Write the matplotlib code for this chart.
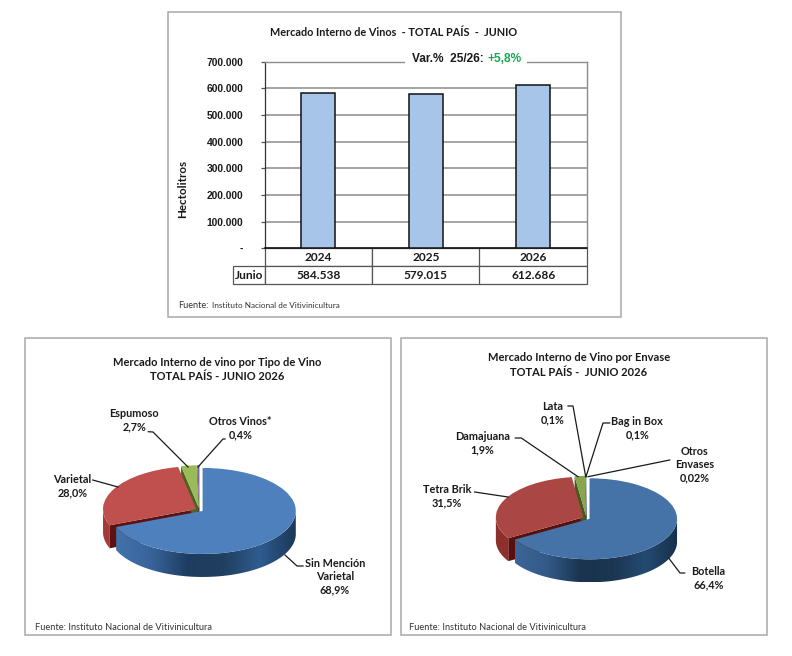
import numpy as np
import matplotlib
matplotlib.use('Agg')
import matplotlib.pyplot as plt
from matplotlib.patches import Polygon, Rectangle
from matplotlib.colors import LinearSegmentedColormap
from matplotlib.table import Table

W, H = 792, 656
years = ['2024', '2025', '2026']
hectolitros = [584538, 579015, 612686]
y_ticks = [0, 100000, 200000, 300000, 400000, 500000, 600000, 700000]
row_name = 'Junio'

tipo_names = ['Sin Mención\nVarietal\n68,9%', 'Varietal\n28,0%', 'Espumoso\n2,7%', 'Otros Vinos*\n0,4%']
tipo_values = [68.9, 28.0, 2.7, 0.4]
envase_names = ['Botella\n66,4%', 'Tetra Brik\n31,5%', 'Damajuana\n1,9%', 'Lata\n0,1%', 'Bag in Box\n0,1%', 'Otros\nEnvases\n0,02%']
envase_values = [66.4, 31.5, 1.9, 0.1, 0.1, 0.02]

CAL = 'Lato'
ARIAL = 'Liberation Sans'
TXT = '#1a1a1a'

fig = plt.figure(figsize=(W / 100, H / 100), dpi=100, facecolor='white')


def px_axes(x0, y0, x1, y1, **kw):
    return fig.add_axes([x0 / W, 1 - y1 / H, (x1 - x0) / W, (y1 - y0) / H], **kw)


def fmt(v):
    return f'{v:,}'.replace(',', '.') if v else '-'


# overlay in pixel coordinates for frames, titles and leaders
ov = px_axes(0, 0, W, H, zorder=10)
ov.set_xlim(0, W)
ov.set_ylim(H, 0)
ov.axis('off')
ov.patch.set_alpha(0)

for x0, y0, x1, y1 in [(168, 12, 621, 317), (25, 338, 391, 635), (401, 338, 767, 635)]:
    ov.add_patch(Rectangle((x0, y0), x1 - x0, y1 - y0, fc='none', ec='#a8a8a8', lw=1.1))

# bar chart
ax = px_axes(264.5, 61.8, 587, 248.3)
ax.bar(years, hectolitros, width=0.315, color='#a7c5e9', edgecolor='#111111', linewidth=1.1, zorder=3)
ax.set_xlim(-0.5, 2.5)
ax.set_ylim(0, 700000)
ax.set_yticks(y_ticks)
ax.set_yticklabels([fmt(v) for v in y_ticks], fontname=ARIAL, fontweight='bold', fontsize=7.4, color=TXT)
ax.tick_params(axis='y', length=2.8, width=0.9, color='#555555', pad=12.5)
ax.tick_params(axis='x', length=0, labelbottom=False)
ax.grid(axis='y', color='#8c8c8c', lw=1.1, zorder=1)
for s in ['top', 'right']:
    ax.spines[s].set_color('#8c8c8c')
    ax.spines[s].set_linewidth(1.0)
ax.spines['left'].set_color('#333333')
ax.spines['left'].set_linewidth(0.9)
ax.spines['bottom'].set_color('#111111')
ax.spines['bottom'].set_linewidth(1.1)

# data table under the bars, the grid fills the bbox and the row label hangs to the left
row_w = 31 / 322.5
col_w = 1 / 3
tbl_h = 36 / 186.5
tb = Table(ax, bbox=[0, -tbl_h, 1, tbl_h])
for i, (yr, val) in enumerate(zip(years, hectolitros)):
    tb.add_cell(0, i, col_w, 0.5, text=yr, loc='center', edgecolor='#555555')
    tb.add_cell(1, i, col_w, 0.5, text=fmt(val), loc='center', edgecolor='#555555')
tb.add_cell(1, -1, row_w, 0.5, text=row_name, loc='center', edgecolor='#555555')
tb.auto_set_font_size(False)
for c in tb.get_celld().values():
    c.set_linewidth(0.9)
    c.get_text().set(fontname=CAL, fontweight='bold', fontsize=8.6, color=TXT)
    c.PAD = 0.02
ax.add_table(tb)

ov.text(394, 32, 'Mercado Interno de Vinos  - TOTAL PAÍS  -  JUNIO', fontname=CAL, fontweight='bold',
        fontsize=7.8, color=TXT, ha='center', va='center')
ov.add_patch(Rectangle((405, 52), 122, 16, fc='white', ec='none'))
ov.text(412, 59.5, 'Var.%  25/26:', fontname=ARIAL, fontweight='bold', fontsize=8.6, color=TXT, ha='left', va='center')
ov.text(487.5, 59.5, '+5,8%', fontname=ARIAL, fontweight='bold', fontsize=8.6, color='#14a850', ha='left', va='center')
ov.text(183, 189, 'Hectolitros', fontname=CAL, fontweight='bold', fontsize=8.4, color=TXT, rotation=90, ha='center', va='center')
ov.text(178, 306, 'Fuente:', fontname=CAL, fontsize=6.6, color='#333333', ha='left', va='center')
ov.text(211.5, 306, 'Instituto Nacional de Vitivinicultura', fontname=CAL, fontsize=5.9, color='#333333', ha='left', va='center')


def pie3d(values, cx, cy, a, b, depth, colors, side_stops, side_dark, cut_colors):
    d = depth / b
    m = 1.3
    pa = px_axes(cx - m * a, cy - m * b, cx + m * a, cy + m * b + depth)
    wedges, _ = pa.pie(values, colors=colors, startangle=90, counterclock=False,
                       explode=[0.04] * len(values), radius=1)
    pa.set_aspect('auto')
    for w in wedges:
        w.set_zorder(5)
        w.set_linewidth(0)
    for i, w in enumerate(wedges):
        wx, wy = w.center
        t = np.radians(np.linspace(w.theta1, w.theta2, 400))
        t = t[np.sin(t) <= 0]
        if i > 0:
            # cut face towards the viewer
            t2 = np.radians(w.theta2)
            rx, ry = wx + np.cos(t2), wy + np.sin(t2)
            pa.add_patch(Polygon([(wx, wy), (rx, ry), (rx, ry - d), (wx, wy - d)], fc=cut_colors[i], ec='none', zorder=1.5))
        if len(t) < 2:
            continue
        xs, ys = wx + np.cos(t), wy + np.sin(t)
        pts = np.r_[np.c_[xs, ys], np.c_[xs, ys - d][::-1]]
        if i == 0:
            # front side of the big slice carries a horizontal gradient
            cmap = LinearSegmentedColormap.from_list('side', side_stops)
            im = pa.imshow(np.linspace(0, 1, 256)[None, :], cmap=cmap, aspect='auto', zorder=2,
                           extent=(xs.min(), xs.max(), ys.min() - d, ys.max()))
            im.set_clip_path(Polygon(pts, transform=pa.transData))
        else:
            pa.add_patch(Polygon(pts, fc=side_dark, ec='none', zorder=1))
    pa.set_xlim(-m, m)
    pa.set_ylim(-m - d, m)
    pa.axis('off')
    return pa


pie3d(tipo_values, 199.5, 510, 93.2, 43, 23,
      ['#4d80bd', '#c0504d', '#9bbb59', '#8064a2'],
      ['#4372ab', '#38639a', '#1e3c60', '#20405f', '#2f5c90', '#1b3757'],
      '#a33a38', [None, '#5c1212', '#4c6322', '#403252'])
pie3d(envase_values, 586.5, 518, 87.5, 40.5, 23,
      ['#4572a7', '#aa4643', '#89a54e', '#71588f', '#4198af', '#db843d'],
      ['#3c6698', '#335a88', '#1a3450', '#1b3650', '#244a72', '#16304a'],
      '#8c2f2d', [None, '#5a0f0f', '#445a1f', '#382a48', '#204c58', '#6d421e'])

label_kw = dict(fontname=CAL, fontweight='bold', fontsize=7.8, color=TXT, ha='center', va='center', linespacing=1.25)
title_kw = dict(fontname=CAL, fontweight='bold', fontsize=8.0, color=TXT, ha='center', va='center')
line_kw = dict(color='#1a1a1a', lw=0.9)

ov.text(216.7, 362.3, 'Mercado Interno de vino por Tipo de Vino', **title_kw)
ov.text(216.7, 376.7, 'TOTAL PAÍS - JUNIO 2026', **title_kw)
ov.text(579, 357.3, 'Mercado Interno de Vino por Envase', **title_kw)
ov.text(579, 372, 'TOTAL PAÍS -  JUNIO 2026', **title_kw)

ov.text(335, 577, tipo_names[0], **label_kw)
ov.text(72.5, 486, tipo_names[1], **label_kw)
ov.text(134.3, 420, tipo_names[2], **label_kw)
ov.text(240.7, 428, tipo_names[3], **label_kw)
ov.text(708.3, 578, envase_names[0], **label_kw)
ov.text(447, 496, envase_names[1], **label_kw)
ov.text(482.3, 443, envase_names[2], **label_kw)
ov.text(553, 413, envase_names[3], **label_kw)
ov.text(637.3, 428, envase_names[4], **label_kw)
ov.text(694.7, 465, envase_names[5], **label_kw)

leaders = [
    [(303, 566), (297, 566), (285, 555)],
    [(92.7, 480), (118, 487)],
    [(148.3, 431.7), (153, 432), (188, 467)],
    [(225, 439), (223, 439), (198, 467)],
    [(684.7, 573), (680, 573), (668.7, 558)],
    [(474.7, 492), (508, 497)],
    [(515.3, 438), (521.3, 438), (578, 476.7)],
    [(568, 406), (573, 406), (585.7, 476.7)],
    [(609.7, 423), (603, 423), (586, 476.7)],
    [(669.7, 460), (588, 476.7)],
]
for pts in leaders:
    ov.plot(*zip(*pts), **line_kw)

fu_kw = dict(fontname=CAL, fontsize=6.7, color='#333333', ha='left', va='center')
ov.text(35, 628, 'Fuente: Instituto Nacional de Vitivinicultura', **fu_kw)
ov.text(409, 628, 'Fuente: Instituto Nacional de Vitivinicultura', **fu_kw)

fig.savefig('out.png', dpi=100)
